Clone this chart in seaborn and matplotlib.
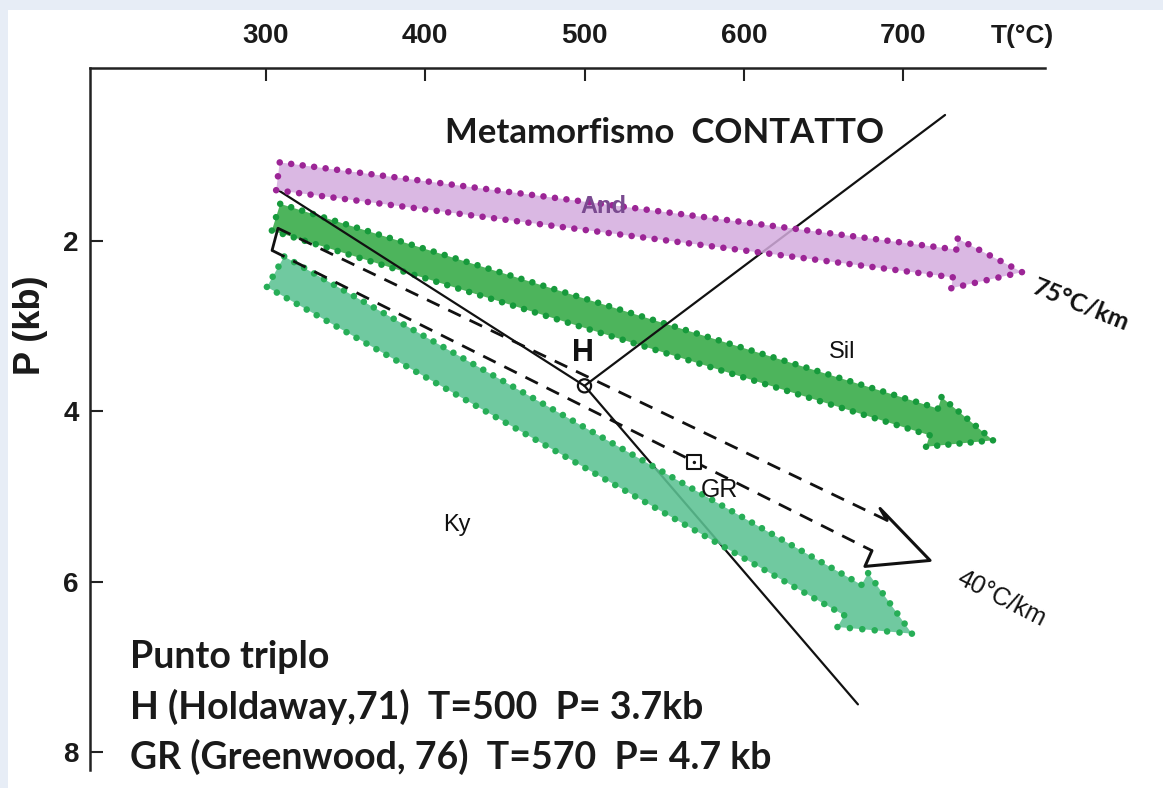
import numpy as np
import pandas as pd
import matplotlib
matplotlib.use("Agg")
import matplotlib.pyplot as plt
from matplotlib.patches import Polygon, Rectangle
from matplotlib import font_manager
import seaborn as sns

# ---------------- data (T in °C, P in kb) ----------------
t_ticks = [300, 400, 500, 600, 700]
p_ticks = [2, 4, 6, 8]

# phase boundaries (Al2SiO5 triple point H)
and_ky_T = [307.5, 500.0]
and_ky_P = [1.40, 3.70]
ky_sil_T = [500.0, 671.7]
ky_sil_P = [3.70, 7.44]
and_sil_T = [500.0, 726.4]
and_sil_P = [3.70, 0.52]

# gradient arrows: (tail T, tail P) -> (tip T, tip P)
grad75_T = [307.5, 774.7]
grad75_P = [1.24, 2.365]
sil_arrow_T = [306.3, 756.5]
sil_arrow_P = [1.72, 4.34]
ky_arrow_T = [306.0, 705.6]
ky_arrow_P = [2.36, 6.61]

# 40 °C/km open dashed arrow
dash_up_T = [307.5, 690.0]
dash_up_P = [1.85, 5.28]
dash_lo_T = [303.8, 680.5]
dash_lo_P = [2.11, 5.635]
dash_tail_T = [307.5, 303.8]
dash_tail_P = [1.85, 2.11]
dash_head_T = [690.0, 685.6, 717.0, 676.1, 680.5]
dash_head_P = [5.28, 5.14, 5.75, 5.82, 5.635]

# triple points
H_T, H_P = 500.0, 3.70
GR_T, GR_P = 569.0, 4.60

sns.set_theme(style="white")
plt.rcParams['font.family'] = ['Liberation Sans', 'DejaVu Sans']

installed = {f.name for f in font_manager.fontManager.ttflist}
tick_family = 'Liberation Sans Narrow' if 'Liberation Sans Narrow' in installed else 'Liberation Sans'

W, H = 1163, 788
fig = plt.figure(figsize=(W / 100, H / 100), dpi=100)
fig.patch.set_facecolor("white")
# light blue frame strips
fig.patches.append(Rectangle((0, 1 - 10 / H), 1, 10 / H, transform=fig.transFigure,
                             facecolor="#e7edf6", edgecolor="none", zorder=0))
fig.patches.append(Rectangle((0, 0), 8 / W, 1, transform=fig.transFigure,
                             facecolor="#e7edf6", edgecolor="none", zorder=0))

ax_left, ax_top = 90, 68
ax = fig.add_axes([ax_left / W, 0, 1 - ax_left / W, (H - ax_top) / H])
ax.set_facecolor("none")

# pixel calibration: T=300 at x=266, 159.25 px / 100 °C; P=0 at y=70.7, 85.17 px / kb
px_per_T = 1.5925
px_per_P = 85.17
x_min = 300 - (266 - ax_left) / px_per_T
x_max = 300 + (W - 266) / px_per_T
y_top = (ax_top - 70.7) / px_per_P
y_bot = (H - 70.7) / px_per_P
ax.set_xlim(x_min, x_max)
ax.set_ylim(y_bot, y_top)


def dotted_arrow(tail, tip, shaft_px, head_w_px, head_len_px, fill, dot_color,
                 alpha=1.0, zorder=2, spacing=11.5, dot_s=22):
    tr = ax.transData
    a = tr.transform(tail)
    b = tr.transform(tip)
    d = b - a
    L = np.hypot(*d)
    u = d / L
    n = np.array([-u[1], u[0]])
    base = b - u * head_len_px
    pts = np.array([a + n * shaft_px / 2, base + n * shaft_px / 2, base + n * head_w_px / 2,
                    b, base - n * head_w_px / 2, base - n * shaft_px / 2, a - n * shaft_px / 2])
    inv = tr.inverted()
    ax.add_patch(Polygon(inv.transform(pts), closed=True, facecolor=fill, alpha=alpha,
                         edgecolor="none", zorder=zorder))
    # beads along the outline
    closed = np.vstack([pts, pts[:1]])
    beads = []
    for p0, p1 in zip(closed[:-1], closed[1:]):
        seg = np.hypot(*(p1 - p0))
        k = max(1, int(round(seg / spacing)))
        for j in range(k):
            beads.append(p0 + (p1 - p0) * j / k)
    beads = inv.transform(np.array(beads))
    ax.scatter(beads[:, 0], beads[:, 1], s=dot_s, color=dot_color, edgecolors="none",
               zorder=zorder + 0.1)


# dark green (Sil) arrow, below lines
dotted_arrow((sil_arrow_T[0], sil_arrow_P[0]), (sil_arrow_T[1], sil_arrow_P[1]), 28, 52, 62,
             "#4db45c", "#179a3c", zorder=2)


def line(xs, ys, **kw):
    df = pd.DataFrame({"T": xs, "P": ys})
    sns.lineplot(data=df, x="T", y="P", sort=False, estimator=None, ax=ax, **kw)


# boundary lines
line(and_ky_T, and_ky_P, color="#111111", linewidth=1.6, zorder=3)
line(ky_sil_T, ky_sil_P, color="#111111", linewidth=1.6, zorder=3)
line(and_sil_T, and_sil_P, color="#111111", linewidth=1.6, zorder=3)

# magenta 75 °C/km arrow and light green Ky arrow (semi transparent, over lines)
dotted_arrow((grad75_T[0], grad75_P[0]), (grad75_T[1], grad75_P[1]), 28, 50, 68,
             "#d4acde", "#9c2596", alpha=0.85, zorder=4)
dotted_arrow((ky_arrow_T[0], ky_arrow_P[0]), (ky_arrow_T[1], ky_arrow_P[1]), 35, 62, 68,
             "#5cc293", "#27ae57", alpha=0.88, zorder=4)

# dashed 40 °C/km open arrow
line(dash_up_T, dash_up_P, color="#111111", linewidth=2.0, dashes=(5, 3.5), zorder=5)
line(dash_lo_T, dash_lo_P, color="#111111", linewidth=2.0, dashes=(5, 3.5), zorder=5)
line(dash_tail_T, dash_tail_P, color="#111111", linewidth=2.0, zorder=5)
line(dash_head_T, dash_head_P, color="#111111", linewidth=2.2, zorder=5)

# triple point markers
sns.scatterplot(x=[H_T], y=[H_P], ax=ax, marker="o", s=90, facecolor="none",
                edgecolor="#111111", linewidth=1.6, zorder=6)
sns.scatterplot(x=[GR_T], y=[GR_P], ax=ax, marker="s", s=110, facecolor="white",
                edgecolor="#111111", linewidth=1.5, zorder=6)
sns.scatterplot(x=[GR_T], y=[GR_P], ax=ax, marker="o", s=6, color="#111111",
                edgecolor="none", zorder=7)

# axes styling (after seaborn calls so labels stay empty)
ax.set_xlim(x_min, x_max)
ax.set_ylim(y_bot, y_top)
ax.set_xlabel("")
ax.set_ylabel("")
for s in ["right", "bottom"]:
    ax.spines[s].set_visible(False)
for s in ["top", "left"]:
    ax.spines[s].set_visible(True)
    ax.spines[s].set_color("#222222")
    ax.spines[s].set_linewidth(1.8)
ax.spines["top"].set_bounds(x_min, 300 + (1045 - 266) / px_per_T)
ax.spines["left"].set_bounds(y_top, (770 - 70.7) / px_per_P)

ax.xaxis.tick_top()
ax.set_xticks(t_ticks)
ax.set_xticklabels([str(t) for t in t_ticks])
ax.set_yticks(p_ticks)
ax.set_yticklabels([str(p) for p in p_ticks])
ax.tick_params(axis="x", direction="in", length=9, width=1.5, color="#222222",
               pad=14, labelsize=20, top=True, bottom=False)
ax.tick_params(axis="y", direction="in", length=9, width=1.5, color="#222222",
               pad=8, labelsize=20, left=True)
for lab in ax.get_xticklabels() + ax.get_yticklabels():
    lab.set_fontweight("bold")
    lab.set_family([tick_family, 'DejaVu Sans'])
    lab.set_color("#1a1a1a")

# texts
calib = ['Lato', 'DejaVu Sans']
ax.text(550, 0.73, "Metamorfismo  CONTATTO", fontsize=25, fontweight="bold",
        family=calib, color="#1a1a1a", ha="center", va="center", zorder=8)
ax.text(511.6, 1.6, "And", fontsize=17, fontweight="bold", color="#7a4a90",
        ha="center", va="center", zorder=8)
ax.text(662, 3.3, "Sil", fontsize=17, color="#111111", ha="center", va="center", zorder=8)
ax.text(420, 5.33, "Ky", fontsize=17, color="#111111", ha="center", va="center", zorder=8)
ax.text(499, 3.31, "H", fontsize=22, fontweight="bold", color="#111111",
        ha="center", va="center", zorder=8)
ax.text(585, 4.92, "GR", fontsize=18, color="#111111", ha="center", va="center", zorder=8)
ax.text(812, 2.75, "75°C/km", fontsize=18, fontweight="bold", family=calib,
        rotation=-22, rotation_mode="anchor", color="#111111", ha="center", va="center", zorder=8)
ax.text(762, 6.2, "40°C/km", fontsize=18, color="#111111",
        rotation=-27, rotation_mode="anchor", ha="center", va="center", zorder=8)

fig.text(1022 / W, 1 - 36 / H, "T(°C)", fontsize=19, fontweight="bold", color="#1a1a1a",
         family=[tick_family, 'DejaVu Sans'], ha="center", va="center")
fig.text(30 / W, 1 - 325 / H, "P (kb)", fontsize=26, fontweight="bold", color="#1a1a1a",
         ha="center", va="center", rotation=90)

bottom_lines = ["Punto triplo",
                "H (Holdaway,71)  T=500  P= 3.7kb",
                "GR (Greenwood, 76)  T=570  P= 4.7 kb"]
for i, txt in enumerate(bottom_lines):
    fig.text(130 / W, 1 - (657 + 50 * i) / H, txt, fontsize=27, fontweight="bold",
             family=calib, color="#1a1a1a", ha="left", va="center")

fig.savefig("out.png", dpi=100)
